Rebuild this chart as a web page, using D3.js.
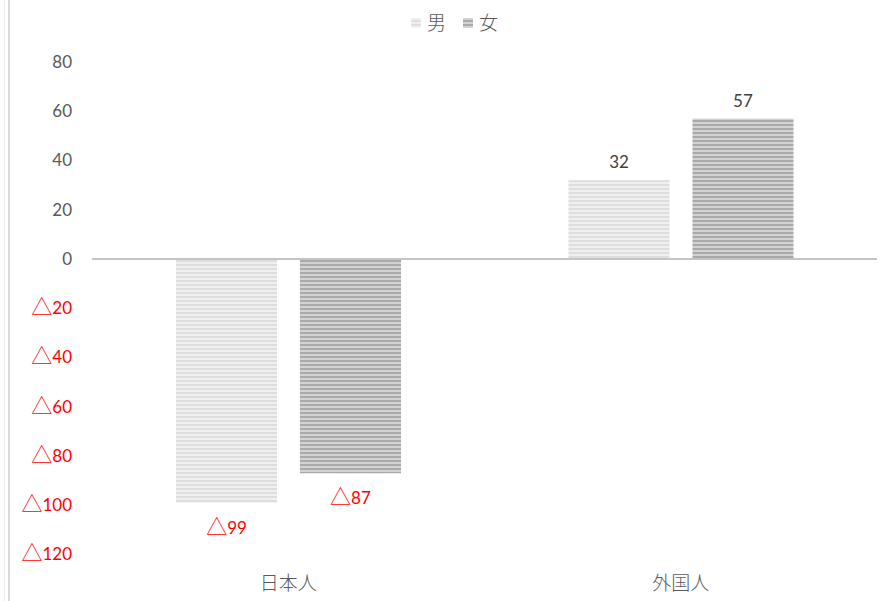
<!DOCTYPE html>
<html><head><meta charset="utf-8">
<script src="https://cdn.jsdelivr.net/npm/d3@7"></script>
<style>body{margin:0;background:#fff;}svg{display:block;font-family:Lato,"Noto Sans CJK JP",sans-serif;}</style>
</head><body>
<svg id="c" width="882" height="601"></svg>
<script>
const categories = ["日本人", "外国人"];
const seriesNames = ["男", "女"];
const maleValues = [-99, 32];
const femaleValues = [-87, 57];
const yTicks = [80, 60, 40, 20, 0, -20, -40, -60, -80, -100, -120];

const svg = d3.select("#c");
const W = 882, H = 601;

function writeNum(sel, v) {
  sel.text(null);
  if (v < 0) {
    sel.append("tspan").attr("font-family", "'Noto Sans CJK JP'").attr("font-weight", 300)
      .attr("font-size", 21).text("△");
    sel.append("tspan").text(String(Math.abs(v)));
  } else sel.text(String(v));
}

// patterns
const defs = svg.append("defs");
const pats = [
  {id: "pm", base: "#f0f0f0", line: "#dedede"},
  {id: "pf", base: "#d2d2d2", line: "#a9a9a9"}
];
pats.forEach(p => {
  const pt = defs.append("pattern").attr("id", p.id).attr("patternUnits", "userSpaceOnUse")
    .attr("width", 8).attr("height", 4);
  pt.append("rect").attr("width", 8).attr("height", 4).attr("fill", p.base);
  pt.append("rect").attr("y", 0).attr("width", 8).attr("height", 2).attr("fill", p.line);
});

// left border lines
svg.append("line").attr("x1", 4.5).attr("x2", 4.5).attr("y1", 0).attr("y2", H).attr("stroke", "#ececec").attr("stroke-width", 1);
svg.append("line").attr("x1", 9).attr("x2", 9).attr("y1", 0).attr("y2", H).attr("stroke", "#d9d9d9").attr("stroke-width", 2);

const y = d3.scaleLinear().domain([-120, 80]).range([554.5, 62]);
const x0 = d3.scaleBand().domain(categories).range([92, 877]);
const x1 = d3.scaleBand().domain(seriesNames).range([84, 309]).paddingInner(0.185);

// y tick labels
svg.append("g").selectAll("text").data(yTicks).join("text")
  .attr("x", 72).attr("y", d => y(d)).attr("dy", "0.35em")
  .attr("text-anchor", "end").attr("font-size", 17)
  .attr("fill", d => d < 0 ? "#ff0000" : "#595959")
  .each(function(d) { writeNum(d3.select(this), d); });

// bars
const data = [];
categories.forEach((c, i) => {
  data.push({c, s: "男", v: maleValues[i], pat: "pm"});
  data.push({c, s: "女", v: femaleValues[i], pat: "pf"});
});
svg.append("g").selectAll("rect").data(data).join("rect")
  .attr("x", d => x0(d.c) + x1(d.s))
  .attr("width", x1.bandwidth())
  .attr("y", d => y(Math.max(0, d.v)))
  .attr("height", d => Math.abs(y(d.v) - y(0)))
  .attr("fill", d => `url(#${d.pat})`);

// zero axis line
svg.append("line").attr("x1", 92).attr("x2", 877).attr("y1", y(0)).attr("y2", y(0))
  .attr("stroke", "#c4c4c4").attr("stroke-width", 2);

// data labels
svg.append("g").selectAll("text").data(data).join("text")
  .attr("x", d => x0(d.c) + x1(d.s) + x1.bandwidth() / 2)
  .attr("y", d => d.v >= 0 ? y(d.v) - 12 : y(d.v) + 31)
  .attr("text-anchor", "middle").attr("font-size", 17)
  .attr("fill", d => d.v < 0 ? "#ff0000" : "#404040")
  .each(function(d) { writeNum(d3.select(this), d.v); });

// category labels
svg.append("g").selectAll("text").data(categories).join("text")
  .attr("x", d => x0(d) + x0.bandwidth() / 2).attr("y", 590)
  .attr("text-anchor", "middle").attr("font-size", 19).attr("font-weight", 300)
  .attr("font-family", "'Noto Sans CJK JP'").attr("fill", "#595959")
  .text(d => d);

// legend
const leg = svg.append("g");
const legItems = [{s: "男", pat: "pm", x: 411}, {s: "女", pat: "pf", x: 463}];
legItems.forEach(it => {
  leg.append("rect").attr("x", it.x).attr("y", 18).attr("width", 10).attr("height", 10).attr("fill", `url(#${it.pat})`);
  leg.append("text").attr("x", it.x + 16).attr("y", 30).attr("font-size", 19).attr("font-weight", 300)
    .attr("font-family", "'Noto Sans CJK JP'").attr("fill", "#595959").text(it.s);
});
</script>
</body></html>
